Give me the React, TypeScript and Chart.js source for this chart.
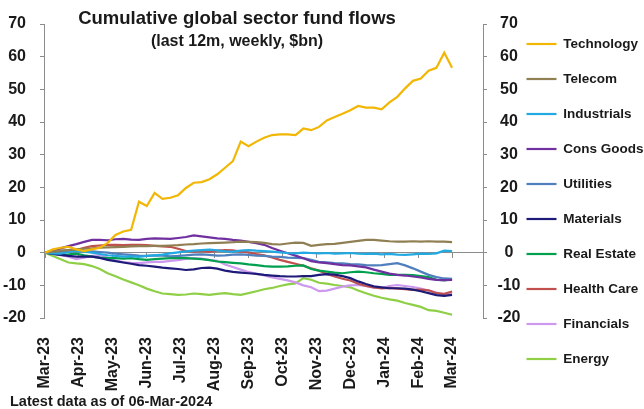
import React, { useEffect, useRef } from 'react';
import Chart from 'chart.js/auto';

const FONT = "'Liberation Sans', Arial, Helvetica, sans-serif";
const TEXT = '#1a1a1a';
const AXIS = '#8c8c8c';

const chartTitle = 'Cumulative global sector fund flows';
const chartSubtitle = '(last 12m, weekly, $bn)';
const footnote = 'Latest data as of 06-Mar-2024';

const monthLabels = [
    'Mar-23', 'Apr-23', 'May-23', 'Jun-23', 'Jul-23', 'Aug-23', 'Sep-23',
    'Oct-23', 'Nov-23', 'Dec-23', 'Jan-24', 'Feb-24', 'Mar-24',
];

const sectors = [
    'Technology', 'Telecom', 'Industrials', 'Cons Goods', 'Utilities',
    'Materials', 'Real Estate', 'Health Care', 'Financials', 'Energy',
];

const colours = [
    '#f2b705', '#8f7f52', '#22a9e1', '#7030a0', '#4f7fbd',
    '#1e1b78', '#00a04e', '#c0504d', '#cc99ee', '#8fcf45',
];

// weekly cumulative flows, $bn (8-Mar-23 .. 6-Mar-24)
const technology = [
    0, 1, 1.5, 1.8, 1, 0.5, 1, 1.5, 3, 5.4,
    6.5, 7, 15.6, 14.3, 18.3, 16.5, 16.8, 17.6, 19.8, 21.4,
    21.6, 22.5, 24, 26, 28, 34, 32.6, 34, 35.2, 36,
    36.2, 36.2, 36, 38, 37.5, 38.5, 40.5, 41.5, 42.5, 43.6,
    44.9, 44.4, 44.4, 43.9, 46, 47.7, 50.3, 52.6, 53.3, 55.7,
    56.6, 61.2, 56.6,
];
const telecom = [
    0, 0.3, 0.6, 0.8, 1.0, 1.2, 1.3, 1.5, 1.6, 1.7,
    1.8, 1.9, 2.0, 2.0, 2.1, 2.1, 2.2, 2.3, 2.5, 2.6,
    2.8, 2.9, 3.0, 3.1, 3.2, 3.4, 3.3, 3.2, 3.0, 2.6,
    2.5, 2.8, 3.1, 3.0, 2.1, 2.4, 2.6, 2.7, 3.0, 3.3,
    3.6, 3.9, 3.9, 3.7, 3.5, 3.4, 3.4, 3.5, 3.4, 3.5,
    3.4, 3.4, 3.2,
];
const industrials = [
    0, -0.2, -0.3, 0.2, 0.5, 0.3, 0, -0.4, -0.8, -1.0,
    -1.2, -1.1, -1.3, -1.0, -0.8, -0.6, -0.2, 0.1, 0.4, 0.6,
    0.8, 0.9, 0.7, 0.4, 0.3, 0.6, 0.8, 0.6, 0.5, 0.3,
    0.1, -0.1, -0.2, 0, -0.1, -0.2, -0.1, -0.3, -0.2, -0.1,
    -0.3, -0.4, -0.3, -0.5, -0.4, -0.6, -0.7, -0.5, -0.3, -0.4,
    -0.2, 0.6, 0.5,
];
const consGoods = [
    0, 0.6, 1.3, 2.0, 2.6, 3.3, 3.9, 3.9, 3.8, 4.1,
    4.2, 4.0, 3.9, 4.2, 4.4, 4.3, 4.2, 4.5, 4.8, 5.3,
    5.0, 4.7, 4.4, 4.2, 3.9, 3.7, 3.3, 2.9, 2.4, 1.4,
    0.6, -0.2, -0.9, -1.7, -2.6, -3.0, -3.2, -3.5, -3.8, -3.9,
    -4.2, -4.5, -5.2, -5.8, -6.4, -6.8, -7.0, -7.3, -7.6, -8.0,
    -8.3, -8.4, -8.3,
];
const utilities = [
    0, 0.3, 0.5, 0.8, 1.0, 0.6, 0.4, 0.2, 0, -0.3,
    -0.5, -0.7, -0.9, -1.0, -0.8, -0.9, -1.1, -1.0, -0.8, -0.6,
    -0.5, -0.7, -0.9, -0.8, -0.6, -0.5, -0.7, -0.9, -1.0, -1.2,
    -1.3, -1.5, -1.6, -1.7, -2.2, -2.8, -3.0, -3.2, -3.3, -3.5,
    -3.6, -3.8, -3.9, -3.8, -3.5, -3.2, -3.9, -4.8, -5.8, -6.8,
    -7.5, -7.9, -8.0,
];
const materials = [
    0, -0.4, -0.7, -1.0, -1.2, -1.2, -1.2, -1.6, -2.2, -2.6,
    -3.0, -3.4, -3.8, -4.0, -4.3, -4.6, -4.8, -5.0, -5.3, -5.1,
    -4.7, -4.6, -4.9, -5.5, -5.9, -6.1, -6.3, -6.5, -6.8, -7.0,
    -7.2, -7.3, -7.3, -7.2, -7.2, -6.8, -6.6, -6.7, -7.2, -7.8,
    -8.8, -9.6, -10.3, -10.6, -10.9, -10.9, -11.0, -11.3, -11.8, -12.4,
    -13.0, -13.2, -12.9,
];
const realEstate = [
    0, -0.3, -0.6, -0.5, -0.3, -0.8, -1.2, -1.5, -1.7, -1.7,
    -1.8, -1.7, -2.0, -2.2, -2.0, -1.8, -1.7, -1.7, -1.7, -1.8,
    -2.0, -2.3, -2.7, -2.9, -3.1, -3.3, -3.6, -3.8, -4.1, -4.3,
    -4.3, -4.2, -4.0, -3.9, -5.0, -5.5, -5.8, -6.1, -6.3, -6.0,
    -5.8, -6.0, -6.3, -6.5, -6.8, -6.8, -6.8, -6.9, -7.2, -7.5,
    -8.3, -8.5, -8.1,
];
const healthCare = [
    0, 0.3, 0.5, 0.4, 0.8, 1.5, 2.0, 2.2, 2.4, 2.4,
    2.3, 2.4, 2.4, 2.3, 2.1, 1.9, 1.8, 1.2, 0.5, 0.3,
    0.5, 0.2, 0.6, 0.8, 0.7, 0.3, 0.1, -0.4, -0.8, -1.5,
    -2.2, -2.8, -3.4, -4.0, -4.8, -5.5, -6.5, -7.3, -8.0, -8.5,
    -9.5, -10.2, -10.6, -10.9, -10.8, -11.0, -11.2, -11.4, -11.3, -11.5,
    -12.4, -12.6, -11.9,
];
const financials = [
    0, -0.4, -0.8, -1.2, -2.0, -1.5, -1.0, -0.8, -1.5, -2.4,
    -2.9, -3.1, -3.2, -3.0, -2.8, -2.8, -2.5, -2.3, -1.9, -1.7,
    -1.8, -2.2, -2.5, -3.6, -4.4, -5.2, -5.9, -6.5, -7.0, -7.6,
    -8.0, -8.5, -9.1, -10.0, -10.6, -11.8, -11.6, -11.0, -10.4, -10.0,
    -9.9, -10.2, -10.7, -10.8, -10.2, -9.9, -10.2, -10.5, -11.0, -11.6,
    -12.2, -12.8, -12.5,
];
const energy = [
    0, -1, -2, -3, -3.3, -3.5, -4.1, -5, -6.3, -7.2,
    -8.2, -9.1, -10, -11, -11.8, -12.5, -12.7, -12.9, -12.8, -12.5,
    -12.7, -12.9, -12.6, -12.4, -12.7, -12.9, -12.4, -11.8, -11.2, -10.8,
    -10.2, -9.7, -9.4, -7.8, -8.3, -9.2, -9.5, -9.9, -10.2, -10.6,
    -11.6, -12.4, -13.2, -13.8, -14.3, -14.7, -15.4, -16, -16.6, -17.6,
    -17.8, -18.4, -19,
];

const series = [
    technology, telecom, industrials, consGoods, utilities,
    materials, realEstate, healthCare, financials, energy,
];

const weeksPerMonth = (technology.length - 1) / (monthLabels.length - 1);
const xMin = -0.13;
const xMax = 55.95;

const monthTicks = (scale: any) => {
    scale.ticks = monthLabels.map((_, i) => ({ value: i * weeksPerMonth }));
};

const textPlugin = {
    id: 'chartTexts',
    afterDraw(chart: any) {
        const { ctx } = chart;
        ctx.save();
        ctx.fillStyle = TEXT;
        ctx.textBaseline = 'middle';
        ctx.textAlign = 'center';
        ctx.font = `bold 18.5px ${FONT}`;
        ctx.fillText(chartTitle, 237, 19);
        ctx.font = `bold 16px ${FONT}`;
        ctx.fillText(chartSubtitle, 237, 42);
        ctx.textAlign = 'left';
        ctx.font = `bold 14.5px ${FONT}`;
        ctx.fillText(footnote, 10, 402);
        ctx.restore();
    },
};

const App: React.FC = () => {
    const chartRef = useRef<HTMLCanvasElement | null>(null);
    const chartInstance = useRef<Chart | null>(null);

    useEffect(() => {
        if (!chartRef.current) return;
        const ctx = chartRef.current.getContext('2d');
        if (!ctx) return;

        if (chartInstance.current) {
            chartInstance.current.destroy();
        }

        const tickFont = { family: FONT, size: 16, weight: 'bold' as const };

        chartInstance.current = new Chart(ctx, {
            type: 'line',
            data: {
                labels: technology.map((_, i) => i),
                datasets: sectors.map((name, i) => ({
                    label: name,
                    data: series[i],
                    borderColor: colours[i],
                    backgroundColor: colours[i],
                    borderWidth: 2.2,
                    pointRadius: 0,
                    tension: 0,
                })),
            },
            options: {
                animation: false,
                responsive: true,
                maintainAspectRatio: false,
                layout: { padding: { top: 0, right: 0, bottom: 6, left: 0 } },
                plugins: {
                    tooltip: { enabled: false },
                    title: { display: false },
                    legend: {
                        position: 'right',
                        align: 'center',
                        maxWidth: 139,
                        labels: {
                            usePointStyle: true,
                            pointStyle: 'line',
                            pointStyleWidth: 30,
                            padding: 21.5,
                            color: TEXT,
                            font: { family: FONT, size: 13.5, weight: 'bold' },
                        },
                    },
                },
                scales: {
                    x: {
                        type: 'linear',
                        min: xMin,
                        max: xMax,
                        grid: { display: false },
                        border: { display: false },
                        afterBuildTicks: monthTicks,
                        afterFit: (s: any) => { s.height = 85; },
                        ticks: {
                            autoSkip: false,
                            minRotation: 90,
                            maxRotation: 90,
                            padding: 11,
                            color: TEXT,
                            font: tickFont,
                            callback: (_v: any, i: number) => monthLabels[i],
                        },
                    },
                    xZero: {
                        type: 'linear',
                        position: { y: 0 },
                        min: xMin,
                        max: xMax,
                        afterBuildTicks: monthTicks,
                        grid: { display: true, drawOnChartArea: false, drawTicks: true, tickLength: 5, color: AXIS },
                        border: { display: true, color: AXIS },
                        ticks: { display: false },
                    },
                    y: {
                        type: 'linear',
                        position: 'left',
                        min: -20,
                        max: 70,
                        afterFit: (s: any) => { s.width = 44; s.paddingTop = 24; },
                        grid: { drawOnChartArea: false, tickLength: 4, color: AXIS },
                        border: { color: AXIS },
                        ticks: { stepSize: 10, padding: 14, color: TEXT, font: tickFont },
                    },
                    yRight: {
                        type: 'linear',
                        position: 'right',
                        min: -20,
                        max: 70,
                        afterFit: (s: any) => { s.width = 22; s.paddingTop = 24; s.paddingBottom = 10; },
                        grid: { drawOnChartArea: false, tickLength: 4, color: AXIS },
                        border: { color: AXIS },
                        // mirrored so the labels are not clipped to the narrow axis box
                        ticks: { stepSize: 10, mirror: true, padding: 37.5, crossAlign: 'center', color: TEXT, font: tickFont },
                    },
                },
            },
            plugins: [textPlugin],
        } as any);

        return () => {
            if (chartInstance.current) {
                chartInstance.current.destroy();
                chartInstance.current = null;
            }
        };
    }, []);

    return (
        <div style={{ position: 'absolute', left: 0, top: 0, width: 644, height: 409, background: '#fff' }}>
            <canvas ref={chartRef}></canvas>
        </div>
    );
};

export default App;
